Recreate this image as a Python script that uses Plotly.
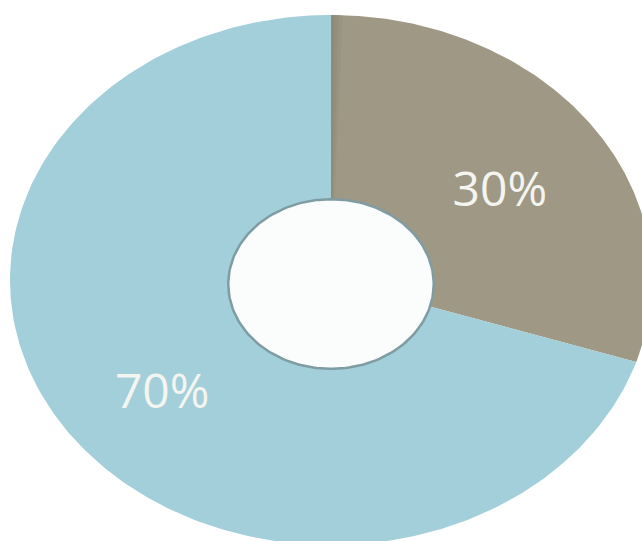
import numpy as np
import plotly.graph_objects as go

labels = ["30%", "70%"]
values = [30, 70]
colors = ["#9e9885", "#a2cfd9"]

W, H = 642, 541
CX, CY = 331, 280
RX, RY = 321, 265
HOLE = 0.32

fig = go.Figure()

total = sum(values)
start = 0.0
for lab, v, c in zip(labels, values, colors):
    a0 = start / total * 2 * np.pi
    a1 = (start + v) / total * 2 * np.pi
    t = np.linspace(a0, a1, 200)
    xs = np.concatenate([[CX], CX + RX * np.sin(t), [CX]])
    ys = np.concatenate([[CY], CY - RY * np.cos(t), [CY]])
    fig.add_trace(go.Scatter(x=xs, y=ys, mode="lines", fill="toself",
                             fillcolor=c, line=dict(width=0, color=c),
                             hoverinfo="skip", showlegend=False))
    if start == 0:
        # soft shadow along the slice's leading edge
        for k, sc in enumerate(["#7f7a69", "#8a8573", "#948f7c"]):
            tt = np.linspace(a0, a0 + (k + 1) * 0.012, 20)
            fig.add_trace(go.Scatter(
                x=np.concatenate([[CX], CX + RX * np.sin(tt), [CX]]),
                y=np.concatenate([[CY], CY - RY * np.cos(tt), [CY]]),
                mode="lines", fill="toself", fillcolor=sc, opacity=0.5,
                line=dict(width=0), hoverinfo="skip", showlegend=False))
    am = (a0 + a1) / 2
    fig.add_trace(go.Scatter(x=[CX + 0.65 * RX * np.sin(am)],
                             y=[CY + 15 - 0.65 * RY * np.cos(am)],
                             mode="text", text=[lab],
                             textfont=dict(family="Open Sans", size=48, color="#f4f4f0"),
                             hoverinfo="skip", showlegend=False))
    start += v

# hole
t = np.linspace(0, 2 * np.pi, 200)
fig.add_trace(go.Scatter(x=CX + HOLE * RX * np.sin(t), y=CY + 4 - HOLE * RY * np.cos(t),
                         mode="lines", fill="toself", fillcolor="#fbfcfc",
                         line=dict(width=2.5, color="#7f9ca3"),
                         hoverinfo="skip", showlegend=False))

fig.update_layout(
    width=W, height=H, margin=dict(l=0, r=0, t=0, b=0),
    paper_bgcolor="white", plot_bgcolor="white",
    xaxis=dict(range=[0, W], visible=False, fixedrange=True),
    yaxis=dict(range=[H, 0], visible=False, fixedrange=True),
)
fig.write_html("out.html", config={"displayModeBar": False},
               post_script="document.body.style.margin='0';")
